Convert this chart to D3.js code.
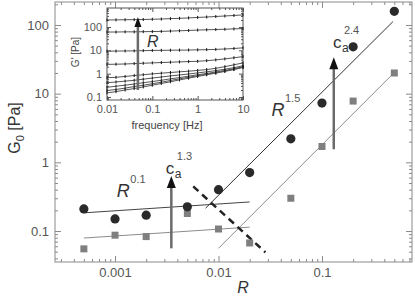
<!DOCTYPE html>
<html>
<head>
<meta charset="utf-8">
<script src="https://cdn.jsdelivr.net/npm/d3@7"></script>
<style>
  body { margin: 0; background: #fff; }
  text { font-family: "Liberation Sans", Arial, sans-serif; }
</style>
</head>
<body>
<svg id="chart" width="415" height="305"></svg>
<script>
// ---- main panel: G0 vs R ----
var ratios = [0.0005, 0.001, 0.002, 0.005, 0.01, 0.02, 0.05, 0.1, 0.2, 0.5];
var g0High = [0.21, 0.15, 0.17, 0.225, 0.40, 0.71, 2.2, 7.3, 48, 158];
var g0Low = [0.055, 0.087, 0.083, 0.18, 0.107, 0.067, 0.30, 1.7, 7.8, 20];

// power-law guides, [R, G0] end points
var fitFlatHigh = [[0.0005, 0.184], [0.02, 0.265]];
var fitFlatLow = [[0.0005, 0.079], [0.02, 0.114]];
var fitSteepHigh = [[0.0075, 0.215], [0.485, 112]];
var fitSteepLow = [[0.01, 0.056], [0.485, 19.4]];
var crossover = [[0.0057, 0.446], [0.0284, 0.049]];

// arrows: [R, from G0, to G0]
var arrowLow = [0.0035, 0.056, 0.63];
var arrowHigh = [0.13, 1.55, 34];

var xTickLabels = ["0.001", "0.01", "0.1"];
var yTickLabels = ["0.1", "1", "10", "100"];

// ---- inset: G' vs frequency ----
var freqs = [0.01, 0.0158, 0.0251, 0.0398, 0.0631, 0.1, 0.158, 0.251, 0.398, 0.631, 1, 1.58, 2.51, 3.98, 6.31, 10];
var gp1 = [200, 202, 205, 207, 210, 215, 220, 228, 236, 245, 258, 268, 282, 297, 312, 330];
var gp2 = [61, 61, 62, 62, 63, 64, 65, 67, 69, 71, 74, 76, 78, 80, 83, 86];
var gp3 = [9.2, 9.3, 9.4, 9.5, 9.7, 9.9, 10.0, 10.1, 10.2, 10.3, 10.5, 10.7, 11.0, 11.4, 12.0, 12.8];
var gp4 = [2.5, 2.55, 2.6, 2.7, 2.8, 2.9, 3.0, 3.1, 3.2, 3.3, 3.4, 3.6, 3.9, 4.3, 4.8, 5.4];
var gp5 = [0.67, 0.7, 0.76, 0.83, 0.9, 0.98, 1.05, 1.12, 1.2, 1.28, 1.38, 1.5, 1.7, 2.0, 2.4, 2.9];
var gp6 = [0.41, 0.44, 0.48, 0.52, 0.58, 0.65, 0.72, 0.8, 0.88, 0.97, 1.08, 1.2, 1.35, 1.55, 1.8, 2.2];
var gp7 = [0.26, 0.29, 0.32, 0.36, 0.41, 0.46, 0.52, 0.6, 0.68, 0.78, 0.9, 1.02, 1.18, 1.38, 1.62, 2.0];
var gp8 = [0.19, 0.21, 0.24, 0.28, 0.32, 0.37, 0.43, 0.51, 0.6, 0.7, 0.82, 0.95, 1.1, 1.3, 1.55, 1.9];
var gp9 = [0.15, 0.17, 0.2, 0.23, 0.27, 0.32, 0.38, 0.45, 0.54, 0.64, 0.76, 0.9, 1.05, 1.25, 1.5, 1.85];
var insetArrow = [0.048, 0.2, 270];
var insetXTickLabels = ["0.01", "0.1", "1", "10"];
var insetYTickLabels = ["0.1", "1", "10", "100"];

var svg = d3.select('#chart');

var x = d3.scaleLog().domain([2.63e-4, 0.741]).range([55, 412]);
var y = d3.scaleLog().domain([0.0354, 216]).range([262, 2]);

var xi = d3.scaleLog().domain([0.01, 10]).range([107, 243]);
var yi = d3.scaleLog().domain([0.0744, 653]).range([100, 8]);

function minorTicks(scale) {
    var d = scale.domain(), out = [];
    var lo = Math.floor(Math.log10(d[0])), hi = Math.ceil(Math.log10(d[1]));
    for (var k = lo; k <= hi; k++) {
        for (var m = 2; m <= 9; m++) {
            var v = m * Math.pow(10, k);
            if (v > d[0] && v < d[1]) out.push(v);
        }
    }
    return out;
}

// frame with inward ticks on all four sides
function frame(g, xs, ys, xLabels, yLabels, o) {
    var x0 = xs.range()[0], x1 = xs.range()[1];
    var y0 = ys.range()[0], y1 = ys.range()[1];
    var xMaj = xLabels.map(Number), yMaj = yLabels.map(Number);
    var xMin = minorTicks(xs), yMin = minorTicks(ys);
    var fmt = function (d) { return String(d); };
    var sides = [
        [d3.axisBottom, xs, 'translate(0,' + y0 + ')', xMaj, xMin, true],
        [d3.axisTop, xs, 'translate(0,' + y1 + ')', xMaj, xMin, false],
        [d3.axisLeft, ys, 'translate(' + x0 + ',0)', yMaj, yMin, true],
        [d3.axisRight, ys, 'translate(' + x1 + ',0)', yMaj, yMin, false]
    ];
    sides.forEach(function (s) {
        var maj = g.append('g').attr('transform', s[2])
            .call(s[0](s[1]).tickValues(s[3]).tickSize(-o.major).tickPadding(o.pad)
                .tickFormat(s[5] ? fmt : function () { return ''; }));
        var mn = g.append('g').attr('transform', s[2])
            .call(s[0](s[1]).tickValues(s[4]).tickSize(-o.minor).tickFormat(function () { return ''; }));
        [maj, mn].forEach(function (a) {
            a.select('.domain').remove();
            a.selectAll('line').attr('stroke', o.color);
        });
        maj.selectAll('text').attr('fill', '#555').style('font-size', o.font + 'px')
            .style('font-family', '"Liberation Sans", Arial, sans-serif');
    });
    g.append('rect')
        .attr('x', x0).attr('y', y1)
        .attr('width', x1 - x0).attr('height', y0 - y1)
        .attr('fill', 'none').attr('stroke', o.color).attr('stroke-width', 1);
}

function arrow(g, px, pyFrom, pyTo, headW, headL, shaftW) {
    g.append('line')
        .attr('x1', px).attr('x2', px)
        .attr('y1', pyFrom).attr('y2', pyTo + headL - 1)
        .attr('stroke', '#6a6a6a').attr('stroke-width', shaftW);
    g.append('path')
        .attr('d', 'M' + px + ',' + pyTo + 'L' + (px - headW / 2) + ',' + (pyTo + headL) +
            'L' + (px + headW / 2) + ',' + (pyTo + headL) + 'Z')
        .attr('fill', '#111');
}

var main = svg.append('g');
frame(main, x, y, xTickLabels, yTickLabels, { major: 6, minor: 3, pad: 6, font: 13, color: '#8a8a8a' });

var seg = d3.line().x(function (d) { return x(d[0]); }).y(function (d) { return y(d[1]); });

main.append('path').datum(fitFlatHigh).attr('d', seg).attr('fill', 'none').attr('stroke', '#444').attr('stroke-width', 1);
main.append('path').datum(fitFlatLow).attr('d', seg).attr('fill', 'none').attr('stroke', '#8c8c8c').attr('stroke-width', 1);
main.append('path').datum(fitSteepHigh).attr('d', seg).attr('fill', 'none').attr('stroke', '#333').attr('stroke-width', 1);
main.append('path').datum(fitSteepLow).attr('d', seg).attr('fill', 'none').attr('stroke', '#8c8c8c').attr('stroke-width', 1);
main.append('path').datum(crossover).attr('d', seg).attr('fill', 'none')
    .attr('stroke', '#222').attr('stroke-width', 2.5).attr('stroke-dasharray', '7,5');

var sq = 7;
main.selectAll('rect.low').data(ratios).enter().append('rect').attr('class', 'low')
    .attr('x', function (d) { return x(d) - sq / 2; })
    .attr('y', function (d, i) { return y(g0Low[i]) - sq / 2; })
    .attr('width', sq).attr('height', sq)
    .attr('fill', '#7f7f7f');
main.selectAll('circle.high').data(ratios).enter().append('circle').attr('class', 'high')
    .attr('cx', function (d) { return x(d); })
    .attr('cy', function (d, i) { return y(g0High[i]); })
    .attr('r', 4.6)
    .attr('fill', '#2a2a2a');

arrow(main, x(arrowLow[0]), y(arrowLow[1]), y(arrowLow[2]), 9, 12, 2.5);
arrow(main, x(arrowHigh[0]), y(arrowHigh[1]), y(arrowHigh[2]), 9, 12, 2.5);

// annotations
function powerLabel(g, px, py, base, exp, size, italic) {
    g.append('text').attr('x', px).attr('y', py).text(base)
        .attr('fill', '#333').style('font-size', size + 'px')
        .style('font-style', italic ? 'italic' : 'normal');
    g.append('text').attr('x', px + size * 0.75).attr('y', py - size * 0.78).text(exp)
        .attr('fill', '#555').style('font-size', '11px');
}
function caLabel(g, px, py, exp) {
    g.append('text').attr('x', px).attr('y', py).text('c')
        .attr('fill', '#333').style('font-size', '17px');
    g.append('text').attr('x', px + 9).attr('y', py + 4).text('a')
        .attr('fill', '#333').style('font-size', '12px');
    g.append('text').attr('x', px + 11).attr('y', py - 14).text(exp)
        .attr('fill', '#555').style('font-size', '11px');
}
powerLabel(main, x(0.00104), y(0.31), 'R', '0.1', 18, true);
powerLabel(main, x(0.0325), y(4.68), 'R', '1.5', 18, true);
caLabel(main, x(0.0031), y(0.668), '1.3');
caLabel(main, x(0.1275), y(46), '2.4');

// axis titles
svg.append('text').attr('x', 243).attr('y', 293).attr('text-anchor', 'middle')
    .style('font-size', '16px').style('font-style', 'italic').attr('fill', '#333').text('R');
var yt = svg.append('text').attr('transform', 'translate(20,128) rotate(-90)')
    .attr('text-anchor', 'middle').style('font-size', '16px').attr('fill', '#333');
yt.append('tspan').text('G');
yt.append('tspan').attr('dy', 4).style('font-size', '11px').text('0');
yt.append('tspan').attr('dy', -4).text(' [Pa]');

// ---- inset ----
var inset = svg.append('g');
inset.append('rect').attr('x', 107).attr('y', 8).attr('width', 136).attr('height', 92).attr('fill', '#fff');
frame(inset, xi, yi, insetXTickLabels, insetYTickLabels, { major: 4, minor: 2, pad: 5, font: 11, color: '#555' });

var curves = [gp1, gp2, gp3, gp4, gp5, gp6, gp7, gp8, gp9];
var lineIn = d3.line().x(function (d) { return xi(d[0]); }).y(function (d) { return yi(d[1]); });
curves.forEach(function (c) {
    var pts = freqs.map(function (f, i) { return [f, c[i]]; });
    inset.append('path').datum(pts).attr('d', lineIn)
        .attr('fill', 'none').attr('stroke', '#555').attr('stroke-width', 1);
    inset.selectAll(null).data(pts).enter().append('line')
        .attr('x1', function (d) { return xi(d[0]); })
        .attr('x2', function (d) { return xi(d[0]); })
        .attr('y1', function (d) { return yi(d[1]) - 1.5; })
        .attr('y2', function (d) { return yi(d[1]) + 1.5; })
        .attr('stroke', '#111').attr('stroke-width', 1);
});
arrow(inset, xi(insetArrow[0]), yi(insetArrow[1]), yi(insetArrow[2]), 7, 10, 2.5);
inset.append('text').attr('x', 147).attr('y', 47).text('R')
    .style('font-size', '16px').style('font-style', 'italic').attr('fill', '#333');
inset.append('text').attr('x', 167).attr('y', 129).attr('text-anchor', 'middle')
    .style('font-size', '11px').attr('fill', '#444').text('frequency [Hz]');
inset.append('text').attr('transform', 'translate(79,52) rotate(-90)').attr('text-anchor', 'middle')
    .style('font-size', '10px').attr('fill', '#444').text("G' [Pa]");
</script>
</body>
</html>
